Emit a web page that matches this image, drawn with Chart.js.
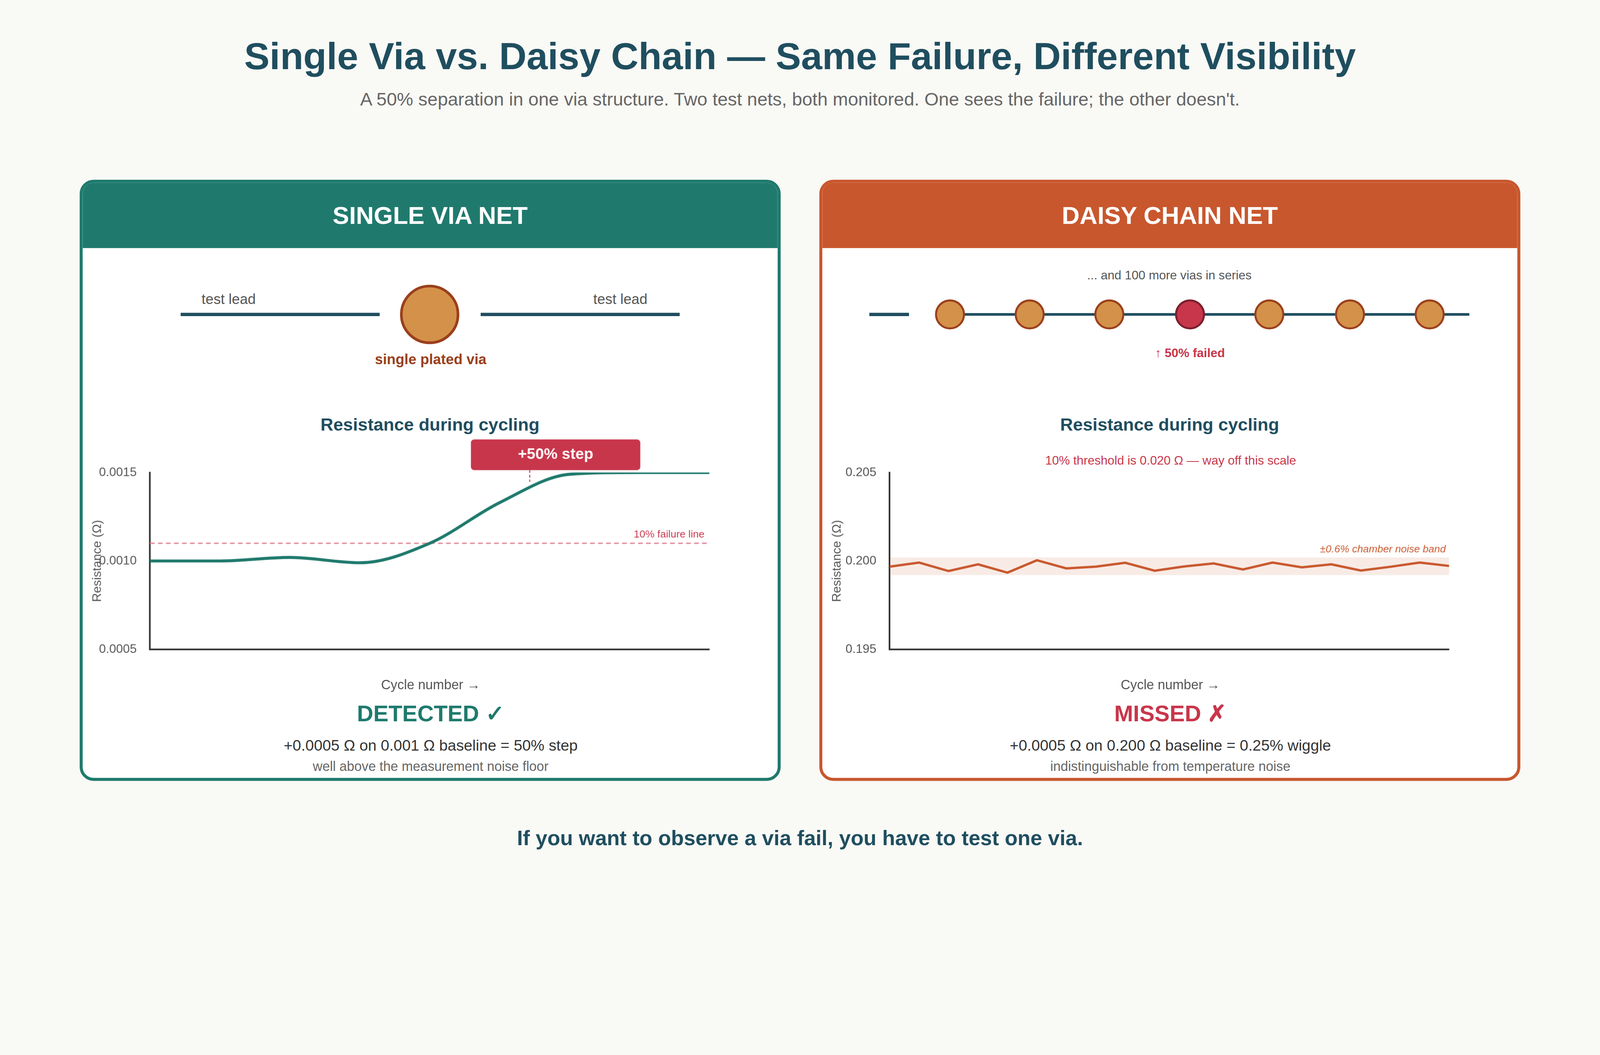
<!DOCTYPE html>
<html><head><meta charset="utf-8">
<script src="https://cdn.jsdelivr.net/npm/chart.js@4/dist/chart.umd.min.js"></script>
<style>
html,body{margin:0;padding:0;overflow:hidden;background:#f9f9f5}
#wrap{width:4800px;height:2700px;background:#f9f9f5;font-family:"Liberation Sans",Arial,sans-serif;position:absolute;left:0;top:0;transform-origin:0 0;overflow:hidden}
.a{position:absolute;white-space:nowrap}
.c{transform:translate(-50%,-50%)}
.panel{position:absolute;top:539px;width:2103px;height:1803px;background:#fff;border:9px solid;border-radius:42px;overflow:hidden;box-sizing:border-box}
.hdr{position:absolute;left:0;top:0;right:0;height:196px;color:#fff;font-weight:bold;font-size:74px;display:flex;align-items:center;justify-content:center}
canvas{position:absolute}
</style></head><body>
<div id="wrap">
<div class="a c" style="left:2400px;top:168px;font-size:114px;font-weight:bold;color:#1f4e5f">Single Via vs. Daisy Chain — Same Failure, Different Visibility</div>
<div class="a c" style="left:2400px;top:297px;font-size:55px;color:#666">A 50% separation in one via structure. Two test nets, both monitored. One sees the failure; the other doesn't.</div>

<div class="panel" style="left:239px;border-color:#1f7a6d"><div class="hdr" style="background:#1f7a6d">SINGLE VIA NET</div></div>
<div class="panel" style="left:2458px;border-color:#c8572d"><div class="hdr" style="background:#c8572d">DAISY CHAIN NET</div></div>

<svg class="a" style="left:0;top:0" width="4800" height="2700">
<line x1="542" y1="943" x2="1139" y2="943" stroke="#1f4e5f" stroke-width="10"/>
<line x1="1442" y1="943" x2="2039" y2="943" stroke="#1f4e5f" stroke-width="10"/>
<circle cx="1289" cy="943" r="85" fill="#d4914a" stroke="#9a3f1c" stroke-width="8"/>
<line x1="2608" y1="943" x2="2727" y2="943" stroke="#1f4e5f" stroke-width="10"/>
<line x1="2850" y1="943" x2="4408" y2="943" stroke="#1f4e5f" stroke-width="8"/>
<g id="vias"></g>
</svg>
<div class="a c" style="left:686px;top:897px;font-size:43px;color:#555">test lead</div>
<div class="a c" style="left:1861px;top:897px;font-size:43px;color:#555">test lead</div>
<div class="a c" style="left:1292px;top:1078px;font-size:43px;font-weight:bold;color:#9a3f1c">single plated via</div>
<div class="a c" style="left:3508px;top:826px;font-size:37px;color:#555">... and 100 more vias in series</div>
<div class="a c" style="left:3570px;top:1059px;font-size:37px;font-weight:bold;color:#c8364b">↑ 50% failed</div>

<div class="a c" style="left:1290px;top:1273px;font-size:53px;font-weight:bold;color:#1f4e5f">Resistance during cycling</div>
<div class="a c" style="left:3509px;top:1273px;font-size:53px;font-weight:bold;color:#1f4e5f">Resistance during cycling</div>
<div class="a c" style="left:3512px;top:1381px;font-size:37px;color:#c8364b">10% threshold is 0.020 Ω — way off this scale</div>

<canvas id="c1" width="1880" height="800" style="left:270px;top:1300px"></canvas>
<canvas id="c2" width="1880" height="800" style="left:2489px;top:1300px"></canvas>

<div class="a c" style="left:1292px;top:2054px;font-size:40px;color:#555">Cycle number →</div>
<div class="a c" style="left:3511px;top:2054px;font-size:40px;color:#555">Cycle number →</div>
<div class="a c" style="left:1292px;top:2140px;font-size:68px;font-weight:bold;color:#1f7a6d">DETECTED ✓</div>
<div class="a c" style="left:3511px;top:2140px;font-size:68px;font-weight:bold;color:#c8364b">MISSED ✗</div>
<div class="a c" style="left:1292px;top:2235px;font-size:46px;color:#333">+0.0005 Ω on 0.001 Ω baseline = 50% step</div>
<div class="a c" style="left:3511px;top:2235px;font-size:46px;color:#333">+0.0005 Ω on 0.200 Ω baseline = 0.25% wiggle</div>
<div class="a c" style="left:1292px;top:2299px;font-size:40px;color:#666">well above the measurement noise floor</div>
<div class="a c" style="left:3511px;top:2299px;font-size:40px;color:#666">indistinguishable from temperature noise</div>
<div class="a c" style="left:2400px;top:2513px;font-size:63px;font-weight:bold;color:#1f4e5f">If you want to observe a via fail, you have to test one via.</div>
</div>
<script>
const singleCycles=[0,1,2,3,4,5,6,7,8];
const singleRes=[0.00100,0.00100,0.00102,0.00099,0.00110,0.00133,0.00149,0.00150,0.00150];
const singleTicks=[0.0005,0.0010,0.0015];
const failureLine=0.0011;
const stepMarkerCycle=5.43, stepBoxCycle=5.8;
const chainCycles=[0,1,2,3,4,5,6,7,8,9,10,11,12,13,14,15,16,17,18,19];
const chainRes=[0.19968,0.19991,0.19943,0.19981,0.19934,0.20004,0.19958,0.19968,0.19990,0.19945,0.19969,0.19986,0.19952,0.19991,0.19964,0.19981,0.19946,0.19967,0.19991,0.19972];
const chainTicks=[0.195,0.200,0.205];
const noiseBand=[0.1992,0.2002];
const viaX=[2850,3089,3328,3570,3808,4050,4289], failedVia=3;

const sc=window.innerWidth/4800;
document.getElementById('wrap').style.transform='scale('+sc+')';
const DPR=(window.devicePixelRatio||1)*sc;

const g=document.getElementById('vias');
viaX.forEach((x,i)=>{const c=document.createElementNS('http://www.w3.org/2000/svg','circle');
c.setAttribute('cx',x);c.setAttribute('cy',943);c.setAttribute('r',42);
c.setAttribute('fill',i===failedVia?'#c8364b':'#d4914a');c.setAttribute('stroke',i===failedVia?'#7a1f2e':'#9a3f1c');c.setAttribute('stroke-width',6);g.appendChild(c);});

const F='"Liberation Sans", Arial, sans-serif';
function opts(ticks,dec,xmax){return{responsive:false,devicePixelRatio:DPR,animation:false,
layout:{padding:{top:117,right:22,bottom:153,left:0}},
plugins:{legend:{display:false},tooltip:{enabled:false}},
scales:{x:{type:'linear',min:0,max:xmax,ticks:{display:false},grid:{display:false,drawTicks:false},border:{color:'#333',width:5},afterFit:s=>{s.height=0}},
y:{min:ticks[0],max:ticks[ticks.length-1],afterBuildTicks:s=>{s.ticks=ticks.map(v=>({value:v}))},
ticks:{callback:v=>v.toFixed(dec),color:'#555',font:{size:37,family:F},padding:40},
grid:{display:false,drawTicks:false},border:{color:'#333',width:5},
title:{display:true,text:'Resistance (Ω)',color:'#555',font:{size:37,family:F},padding:0},afterFit:s=>{s.width=180}}}}}

new Chart(document.getElementById('c1'),{type:'line',
data:{datasets:[{data:singleCycles.map((x,i)=>({x,y:singleRes[i]})),borderColor:'#1f7a6d',borderWidth:9,pointRadius:0,cubicInterpolationMode:'monotone'}]},
options:opts(singleTicks,4,8),
plugins:[{id:'ann',beforeDatasetsDraw(ch){const {ctx,chartArea:a,scales:{x,y}}=ch;const py=y.getPixelForValue(failureLine);
ctx.save();ctx.strokeStyle='#e58a9a';ctx.lineWidth=4;ctx.setLineDash([14,10]);ctx.beginPath();ctx.moveTo(a.left,py);ctx.lineTo(a.right,py);ctx.stroke();
ctx.setLineDash([]);ctx.fillStyle='#c8364b';ctx.font='31px '+F;ctx.textAlign='right';ctx.textBaseline='bottom';ctx.fillText('10% failure line',a.right-15,py-10);ctx.restore();},
afterDatasetsDraw(ch){const {ctx,chartArea:a,scales:{x}}=ch;const bx=x.getPixelForValue(stepBoxCycle),w=508,h=92,bot=a.top-7;
ctx.save();const mx=x.getPixelForValue(stepMarkerCycle);ctx.strokeStyle='#c8364b';ctx.lineWidth=3;ctx.setLineDash([8,6]);ctx.beginPath();ctx.moveTo(mx,bot);ctx.lineTo(mx,a.top+28);ctx.stroke();ctx.setLineDash([]);
ctx.fillStyle='#c8364b';ctx.beginPath();ctx.roundRect(bx-w/2,bot-h,w,h,10);ctx.fill();
ctx.fillStyle='#fff';ctx.font='bold 46px '+F;ctx.textAlign='center';ctx.textBaseline='middle';ctx.fillText('+50% step',bx,bot-h/2);ctx.restore();}}]});

new Chart(document.getElementById('c2'),{type:'line',
data:{datasets:[{data:chainCycles.map((x,i)=>({x,y:chainRes[i]})),borderColor:'#c8572d',borderWidth:7,pointRadius:0,tension:0}]},
options:opts(chainTicks,3,19),
plugins:[{id:'band',beforeDatasetsDraw(ch){const {ctx,chartArea:a,scales:{y}}=ch;const t=y.getPixelForValue(noiseBand[1]),b=y.getPixelForValue(noiseBand[0]);
ctx.save();ctx.fillStyle='rgba(200,87,45,0.12)';ctx.fillRect(a.left,t,a.right-a.left,b-t);
ctx.fillStyle='#c8572d';ctx.font='italic 31px '+F;ctx.textAlign='right';ctx.textBaseline='bottom';ctx.fillText('±0.6% chamber noise band',a.right-10,t-8);ctx.restore();}}]});
</script>
</body></html>
